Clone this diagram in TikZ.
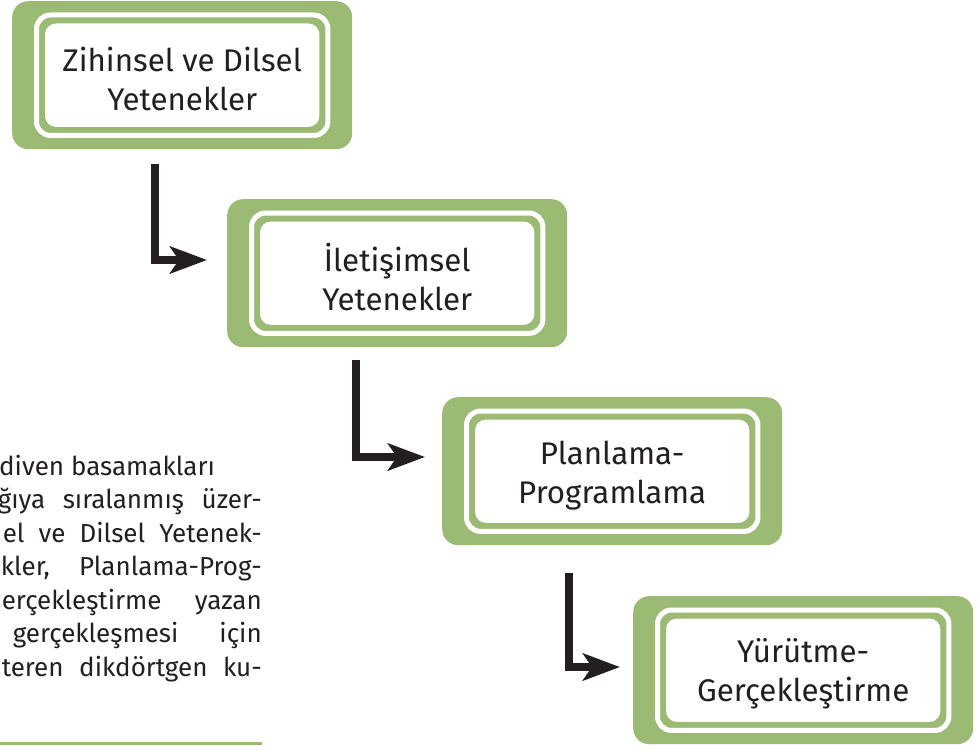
\documentclass[tikz,border=0pt]{standalone}
\usepackage{fontspec}
\setmainfont{Fira Sans}
\usetikzlibrary{arrows.meta}
\definecolor{boxgreen}{HTML}{9BBB74}
\definecolor{ink}{HTML}{231F20}
\tikzset{
  outerbox/.style={fill=boxgreen, draw=none, rounded corners=16pt, minimum width=340pt, minimum height=148pt, inner sep=0pt, anchor=north west},
  ringline/.style={draw=white, line width=5pt, rounded corners=14pt},
  innerfill/.style={fill=white, draw=none, rounded corners=11pt},
  boxtext/.style={text=ink, align=center, font=\fontsize{31.3}{39}\selectfont, inner sep=0pt, yshift=-4pt},
  bodytext/.style={text=ink, font=\fontsize{26}{33.5}\selectfont, inner sep=0pt},
  stairarrow/.style={draw=ink, line width=8pt, miter limit=10, -{Stealth[length=37pt,width=27pt,inset=9pt]}}
}
\newcommand{\ringbox}[1]{%
  \draw[ringline] ([xshift=24.5pt,yshift=-14pt]#1.north west) rectangle ([xshift=-24.5pt,yshift=14pt]#1.south east);
  \fill[innerfill] ([xshift=33pt,yshift=-22.5pt]#1.north west) rectangle ([xshift=-33pt,yshift=22.5pt]#1.south east);
}
\begin{document}
\begin{tikzpicture}[x=1pt,y=-1pt]
\useasboundingbox (0,0) rectangle (979,749);
% boxes
\node[outerbox] (b1) at (12,1) {};
\node[outerbox] (b2) at (227,199) {};
\node[outerbox] (b3) at (442,397) {};
\node[outerbox] (b4) at (633,596) {};
\ringbox{b1}
\ringbox{b2}
\ringbox{b3}
\ringbox{b4}
\node[boxtext] (t1) at (b1.center) {Zihinsel ve Dilsel\\Yetenekler};
\node[boxtext] (t2) at (b2.center) {İletişimsel\\Yetenekler};
\node[boxtext] (t3) at (b3.center) {Planlama-\\Programlama};
\node[boxtext] (t4) at (b4.center) {Yürütme-\\Gerçekleştirme};
% arrows
\coordinate (a1s) at (155,164);
\coordinate (a1e) at (207,260);
\coordinate (a2s) at (356,360);
\coordinate (a2e) at (425,457);
\coordinate (a3s) at (569,573);
\coordinate (a3e) at (620,667);
\draw[stairarrow] (a1s) |- (a1e);
\draw[stairarrow] (a2s) |- (a2e);
\draw[stairarrow] (a3s) |- (a3e);
% paragraph (cut off at the left)
\node[bodytext, anchor=base west] (p1) at (-1,475) {diven basamakları};
\node[bodytext, anchor=base east] (p2) at (262,508.5) {\makebox[264pt][s]{ğıya sıralanmış üzer-}};
\node[bodytext, anchor=base east] (p3) at (262,542) {\makebox[259pt][s]{el ve Dilsel Yetenek-}};
\node[bodytext, anchor=base east] (p4) at (262,575.5) {\makebox[261pt][s]{kler, Planlama-Prog-}};
\node[bodytext, anchor=base east] (p5) at (262,609) {\makebox[260pt][s]{erçekleştirme yazan}};
\node[bodytext, anchor=base east] (p6) at (262,642.5) {\makebox[249pt][s]{gerçekleşmesi için}};
\node[bodytext, anchor=base east] (p7) at (262,676) {\makebox[260pt][s]{teren dikdörtgen ku-}};
\coordinate (r1) at (0,743);
\coordinate (r2) at (262,743);
\draw[boxgreen, line width=3pt] (r1) -- (r2);
\end{tikzpicture}
\end{document}
